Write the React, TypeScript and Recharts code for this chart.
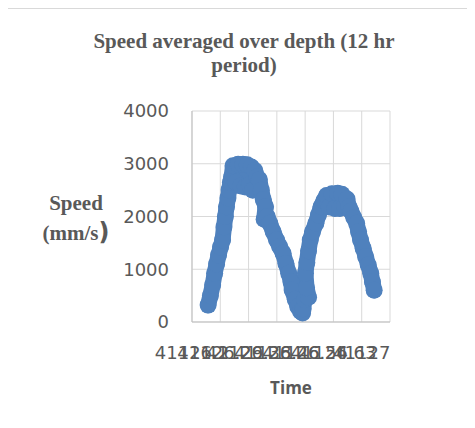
import { CartesianGrid, Scatter, ScatterChart, XAxis, YAxis } from 'recharts'

const timeLabels = ['41126.2', '41126.29', '41126.38', '41126.46', '41126.54', '41126.63', '41127']
const timeTicks = [0, 1, 2, 3, 4, 5, 6]
const speedTicks = [0, 1000, 2000, 3000, 4000]

// position along the time axis (one unit per category gap)
const timeIndex = [
  0.57, 0.65, 0.73, 0.8, 0.87, 0.94, 1.01, 1.08, 1.13, 1.18, 1.22, 1.27, 1.31, 1.36,
  1.4, 1.45, 1.55, 1.63, 1.72, 1.8, 1.88, 1.95, 2.03, 2.1, 2.15, 2.22, 2.3,
  2.38, 2.45, 2.52, 2.6, 2.55, 2.66, 2.75, 2.87, 2.99, 3.1, 3.22, 3.32, 3.42, 3.5, 3.54, 3.65, 3.74, 3.84, 3.91,
  3.93, 3.98, 4.12, 4.05, 4.01, 4.06, 4.12, 4.18, 4.26, 4.38, 4.47, 4.56, 4.66,
  4.76, 4.85, 4.95, 5.05, 5.15, 5.22, 5.3, 5.4, 5.48, 5.55,
  5.62, 5.72, 5.82, 5.89, 5.96, 6.05, 6.14, 6.23, 6.32, 6.38, 6.44,
]

// speed averaged over depth, mm/s
const speed = [
  320, 500, 700, 923, 1100, 1270, 1420, 1554, 1800, 2000, 2186, 2350, 2502, 2650,
  2750, 2960, 2650, 2990, 2580, 2990, 2560, 2980, 2600, 2940, 2500, 2870, 2750,
  2700, 2500, 2320, 2186, 1950, 2000, 1870, 1710, 1554, 1430, 1302, 1110, 923, 760, 607, 430, 290, 200, 170,
  250, 420, 470, 650, 923, 1130, 1350, 1554, 1710, 1870, 2030, 2186, 2300,
  2400, 2180, 2430, 2150, 2440, 2150, 2420, 2200, 2330, 2180,
  2100, 1980, 1870, 1710, 1554, 1400, 1239, 1080, 923, 760, 600,
]

const BLUE = '#4f81bd'
const TEXT = '#595959'

const data = timeIndex.map((t, i) => ({ t, speed: speed[i] }))

function TimeTick({ x, y, index }: { x: number; y: number; index: number }) {
  return (
    <text
      x={x}
      y={y + 37}
      textAnchor="middle"
      fill={TEXT}
      fontSize={18}
      fontFamily="DejaVu Sans"
    >
      {timeLabels[index]}
    </text>
  )
}

export default function App() {
  return (
    <div style={{ position: 'relative', width: 475, height: 428, margin: -8, overflow: 'hidden', background: '#fff' }}>
      <div
        style={{
          position: 'absolute',
          left: 7,
          top: 8,
          width: 500,
          height: 450,
          border: '1px solid #d9d9d9',
        }}
      />
      <div
        style={{
          position: 'absolute',
          left: 0,
          top: 29,
          width: 488,
          textAlign: 'center',
          fontFamily: '"Liberation Serif"',
          fontWeight: 700,
          fontSize: 21,
          lineHeight: '24px',
          color: TEXT,
        }}
      >
        Speed averaged over depth (12 hr
        <br />
        period)
      </div>
      <div
        style={{
          position: 'absolute',
          left: 26,
          top: 189,
          width: 100,
          textAlign: 'center',
          fontFamily: '"Liberation Serif"',
          fontWeight: 700,
          fontSize: 21,
          lineHeight: '29px',
          color: TEXT,
        }}
      >
        Speed
        <br />
        (mm/s<span style={{ fontFamily: 'DejaVu Sans', fontSize: 24 }}>)</span>
      </div>
      <div
        style={{
          position: 'absolute',
          left: 191,
          top: 377,
          width: 200,
          textAlign: 'center',
          fontFamily: '"Open Sans"',
          fontWeight: 700,
          fontSize: 17,
          lineHeight: '22px',
          color: TEXT,
        }}
      >
        Time
      </div>
      <div style={{ position: 'absolute', left: 0, top: 0 }}>
        <ScatterChart
          width={475}
          height={428}
          margin={{ top: 111, right: 85, bottom: 66, left: 0 }}
        >
          <CartesianGrid stroke="#d9d9d9" strokeWidth={1} />
          <XAxis
            type="number"
            dataKey="t"
            domain={[0, 7]}
            ticks={timeTicks}
            interval={0}
            allowDataOverflow
            height={40}
            stroke="#bfbfbf"
            tickLine={false}
            tickSize={0}
            tickMargin={0}
            tick={(props: any) => <TimeTick {...props} />}
          />
          <YAxis
            type="number"
            dataKey="speed"
            domain={[0, 4000]}
            ticks={speedTicks}
            interval={0}
            width={192}
            stroke="#bfbfbf"
            tickLine={false}
            tickSize={0}
            tickMargin={23}
            tick={{ fill: TEXT, fontSize: 18, fontFamily: 'DejaVu Sans' }}
          />
          <Scatter
            data={data}
            fill={BLUE}
            isAnimationActive={false}
            line={{ stroke: BLUE, strokeWidth: 16, strokeLinejoin: 'round', strokeLinecap: 'round' }}
            lineType="joint"
            shape={(p: any) => <circle cx={p.cx} cy={p.cy} r={8.5} fill={BLUE} />}
          />
        </ScatterChart>
      </div>
    </div>
  )
}
